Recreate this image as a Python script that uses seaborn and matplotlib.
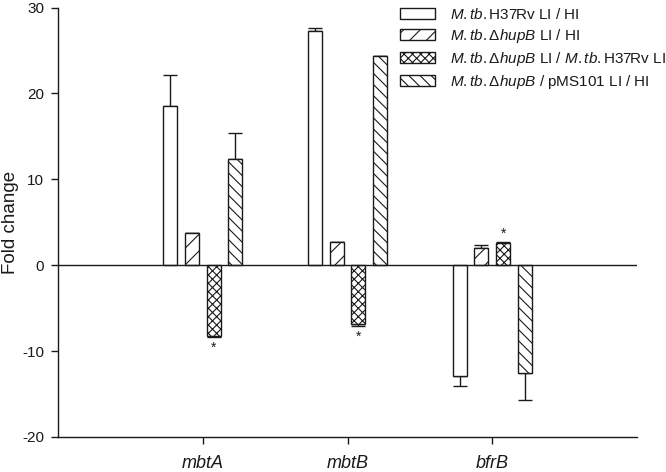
import numpy as np
import pandas as pd
import matplotlib
matplotlib.use('Agg')
import matplotlib.pyplot as plt
import seaborn as sns

# data
genes = ['mbtA', 'mbtB', 'bfrB']
strains = ['H37Rv', 'hupB', 'hupB_vs_H37Rv', 'hupB_pMS101']
legend_labels = [
    r'$\mathit{M.tb.}$H37Rv LI / HI',
    r'$\mathit{M.tb.Δ hupB}$ LI / HI',
    r'$\mathit{M.tb.Δ hupB}$ LI / $\mathit{M.tb.}$H37Rv LI',
    r'$\mathit{M.tb.Δ hupB}$ / pMS101 LI / HI',
]
h37rv = [18.5, 27.3, -12.9]
h37rv_err = [3.6, 0.3, 1.2]
hupb = [3.7, 2.7, 2.0]
hupb_err = [0.1, 0.05, 0.4]
hupb_vs_wt = [-8.2, -6.8, 2.6]
hupb_vs_wt_err = [0.2, 0.3, 0.1]
hupb_comp = [12.4, 24.3, -12.5]
hupb_comp_err = [3.0, 0.1, 3.2]
# significance marks (gene index, strain index)
stars = [(0, 2), (1, 2), (2, 2)]

values = [h37rv, hupb, hupb_vs_wt, hupb_comp]
errors = [h37rv_err, hupb_err, hupb_vs_wt_err, hupb_comp_err]
hatches = ['', '//', 'xxxx', '\\\\\\']

rows = []
for s, vals in zip(strains, values):
    for g, v in zip(genes, vals):
        rows.append({'gene': g, 'strain': s, 'fold': v})
df = pd.DataFrame(rows)

sns.set_style('ticks')
plt.rcParams['font.family'] = ['Liberation Sans', 'DejaVu Sans']
plt.rcParams['mathtext.fontset'] = 'custom'
plt.rcParams['mathtext.rm'] = 'Liberation Sans'
plt.rcParams['mathtext.it'] = 'Liberation Sans:italic'
plt.rcParams['axes.unicode_minus'] = False
plt.rcParams['hatch.linewidth'] = 0.8
plt.rcParams['hatch.color'] = '#1a1a1a'
ink = '#1a1a1a'

fig = plt.figure(figsize=(6.66, 4.72), dpi=100)
ax = fig.add_axes([58 / 666, 1 - 437 / 472, (637 - 58) / 666, (437 - 7.5) / 472])

sns.barplot(data=df, x='gene', y='fold', hue='strain', order=genes, hue_order=strains,
            palette=['white'] * 4, saturation=1, edgecolor=ink, linewidth=1,
            width=0.6, gap=0.35, errorbar=None, legend=False, ax=ax)

bar_conts = list(ax.containers)
for k, cont in enumerate(bar_conts):
    for j, bar in enumerate(cont):
        bar.set_hatch(hatches[k])
        bar.set_zorder(2)
        xc = bar.get_x() + bar.get_width() / 2
        v = values[k][j]
        e = errors[k][j]
        yerr = [[0], [e]] if v > 0 else [[e], [0]]
        ax.errorbar(xc, v, yerr=yerr, fmt='none', ecolor=ink, elinewidth=1,
                    capsize=5, capthick=1, zorder=1)
        if (j, k) in stars:
            if v < 0:
                ax.text(xc, v - e - 0.4, '*', ha='center', va='top', fontsize=10, color=ink)
            else:
                ax.text(xc, v + e + 0.2, '*', ha='center', va='bottom', fontsize=10, color=ink)

ax.axhline(0, color=ink, lw=1, zorder=3)
ax.set_xlim(-1, 3)
ax.set_ylim(-20, 30)
ax.set_yticks(np.arange(-20, 31, 10))
ax.set_xticks(range(len(genes)))
ax.set_xticklabels(genes, fontstyle='italic', fontsize=13, color=ink)
ax.tick_params(axis='y', labelsize=11, labelcolor=ink, color=ink, length=5, width=1, pad=5)
ax.tick_params(axis='x', color=ink, length=5, width=1, pad=8)
ax.set_xlabel('')
ax.set_ylabel('Fold change', fontsize=13.5, color=ink, labelpad=2)
sns.despine(ax=ax)
for sp in ['left', 'bottom']:
    ax.spines[sp].set_color(ink)
    ax.spines[sp].set_linewidth(1)

ax.legend(handles=bar_conts, labels=legend_labels, loc='upper left',
          bbox_to_anchor=(400 / 666, 1 - 7 / 472), bbox_transform=fig.transFigure,
          frameon=False, fontsize=11, handlelength=2.3, handleheight=0.72,
          handletextpad=1.0, labelspacing=0.32, borderpad=0, borderaxespad=0,
          labelcolor=ink)

fig.savefig('out.png', dpi=100)
